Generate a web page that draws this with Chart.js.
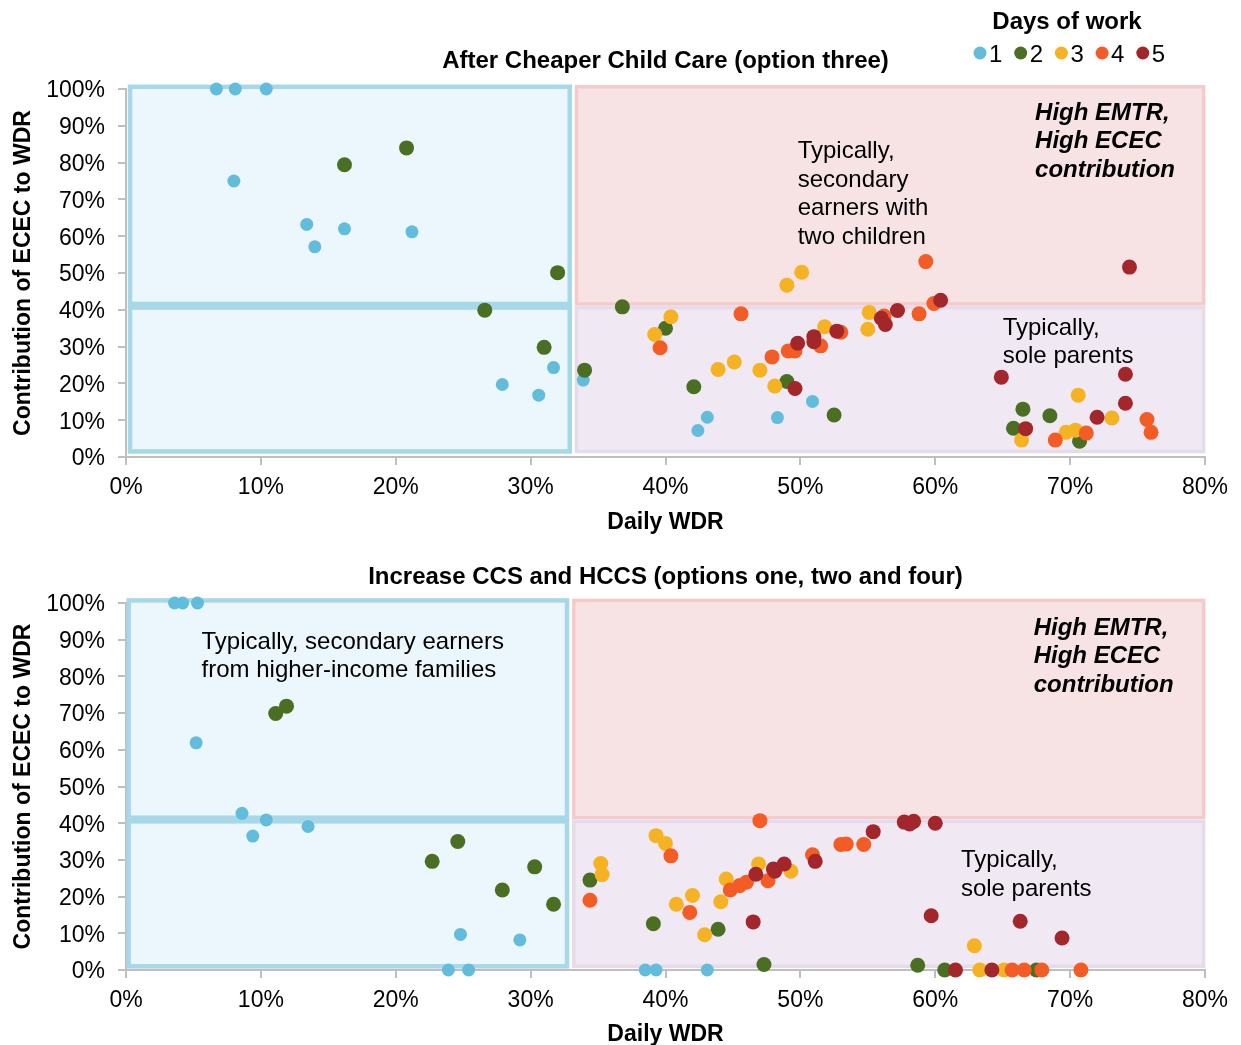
<!DOCTYPE html>
<html>
<head>
<meta charset="utf-8">
<title>Daily WDR and ECEC contribution</title>
<script src="https://cdn.jsdelivr.net/npm/chart.js@4"></script>
<style>
  body { margin: 0; background: #fff; }
  #wrap { position: relative; width: 1241px; height: 1045px; }
  #wrap canvas { position: absolute; left: 0; }
</style>
</head>
<body>
<div id="wrap">
  <canvas id="chart-top" width="1241" height="540" style="top:0"></canvas>
  <canvas id="chart-bottom" width="1241" height="505" style="top:540px"></canvas>
</div>
<script>
// ===== data =====
var days = ['1', '2', '3', '4', '5'];
var xTickValues = [0, 10, 20, 30, 40, 50, 60, 70, 80];
var yTickValues = [0, 10, 20, 30, 40, 50, 60, 70, 80, 90, 100];

// After Cheaper Child Care (option three): [daily WDR %, ECEC contribution %]
var cheaperDay1 = [[6.7,100],[8.1,100],[10.4,100],[8.0,75],[13.4,63.2],[16.2,62.0],[14.0,57.1],[21.2,61.2],[27.9,19.7],[30.6,16.8],[31.7,24.3],[33.9,20.9],[42.4,7.2],[43.1,10.8],[48.3,10.7],[50.9,15.1]];
var cheaperDay2 = [[16.2,79.4],[20.8,84.0],[32.0,50.1],[26.6,39.9],[31.0,29.8],[34.0,23.6],[36.8,40.8],[40.0,35.0],[42.1,19.1],[49.0,20.5],[52.5,11.4],[66.5,13.0],[65.8,7.8],[68.5,11.2],[70.7,4.3]];
var cheaperDay3 = [[49.0,46.7],[50.1,50.2],[40.4,38.1],[39.2,33.3],[43.9,23.8],[45.1,25.8],[47.0,23.6],[48.1,19.3],[51.8,35.4],[55.1,39.3],[55.0,34.7],[70.6,16.8],[73.1,10.6],[66.4,4.6],[69.7,6.7],[70.4,7.3]];
var cheaperDay4 = [[59.3,53.1],[39.6,29.7],[45.6,38.9],[47.9,27.2],[49.1,28.8],[49.6,28.8],[51.5,30.2],[53.0,33.9],[58.8,38.9],[59.9,41.7],[56.2,38.3],[68.9,4.6],[71.2,6.5],[75.7,10.2],[76.0,6.7]];
var cheaperDay5 = [[49.8,30.9],[49.6,18.6],[51.0,32.7],[51.0,31.3],[52.7,34.2],[56.0,37.7],[56.3,36.0],[57.2,39.8],[60.4,42.6],[74.4,51.6],[64.9,21.7],[74.1,22.5],[74.1,14.6],[72.0,10.8],[66.7,7.7]];

// Increase CCS and HCCS (options one, two and four)
var ccsDay1 = [[3.6,100],[4.2,100],[5.3,100],[5.2,61.9],[8.6,42.7],[10.4,40.9],[9.4,36.5],[13.5,39.1],[24.8,9.7],[29.2,8.2],[23.9,0],[25.4,0],[38.5,0],[39.3,0],[43.1,0]];
var ccsDay2 = [[11.1,69.9],[11.9,71.9],[22.7,29.6],[24.6,35.0],[30.3,28.1],[27.9,21.8],[31.7,17.9],[34.4,24.5],[39.1,12.6],[43.9,11.1],[47.3,1.5],[58.7,1.3],[60.7,0],[67.5,0]];
var ccsDay3 = [[35.2,29.0],[35.3,26.0],[39.3,36.6],[40.0,34.5],[40.8,17.9],[42.0,20.3],[42.9,9.6],[44.1,18.6],[44.5,24.8],[46.9,28.9],[49.3,26.9],[62.9,6.6],[63.3,0],[65.1,0]];
var ccsDay4 = [[47.0,40.7],[34.4,19.0],[40.4,31.1],[41.8,15.7],[44.8,21.8],[45.5,23.0],[46.0,23.9],[47.6,24.3],[50.9,31.4],[53.0,34.2],[53.4,34.3],[54.7,34.2],[65.7,0],[66.6,0],[67.9,0],[70.8,0]];
var ccsDay5 = [[46.7,26.1],[48.0,27.5],[48.1,26.9],[48.8,28.9],[51.1,29.6],[46.5,13.1],[55.4,37.7],[57.7,40.3],[58.1,39.8],[58.4,40.5],[60.0,40.0],[59.7,14.8],[66.3,13.3],[69.4,8.7],[61.5,0],[64.2,0]];

// ===== styles =====
var FONT = '"Liberation Sans", Arial, sans-serif';
var dayColors = ['#62bcdb', '#4a6f23', '#f5b223', '#f35c24', '#a3262a'];
var dayRadius = [6.5, 7.5, 7.5, 7.5, 7.5];
var AXIS_GREY = '#bfbfbf';

Chart.defaults.font.family = FONT;
Chart.defaults.color = '#000';

// quadrant boxes + notes (+ legend for the top chart)
var quadrantPlugin = {
  id: 'quadrants',
  beforeDatasetsDraw: function(chart, args, opts) {
    var xs = chart.scales.x, ys = chart.scales.y, ctx = chart.ctx;
    var q = opts.q;
    var rects = [
      { x0: q.xMid + 0.3, x1: q.x1, y0: q.yMid + 0.5, y1: q.y1, fill: '#f8e3e4', stroke: '#f5cacb', w: 3.5 },
      { x0: q.xMid + 0.3, x1: q.x1, y0: q.y0, y1: q.yMid - 0.5, fill: '#f0e8f3', stroke: '#e6dbea', w: 3.5 },
      { x0: q.x0, x1: q.xMid - 0.2, y0: q.yMid + 0.5, y1: q.y1, fill: '#ebf7fc', stroke: '#a6d8ea', w: 4.5 },
      { x0: q.x0, x1: q.xMid - 0.2, y0: q.y0, y1: q.yMid - 0.5, fill: '#ebf7fc', stroke: '#a6d8ea', w: 4.5 }
    ];
    ctx.save();
    rects.forEach(function(r) {
      var l = xs.getPixelForValue(r.x0), rt = xs.getPixelForValue(r.x1);
      var t = ys.getPixelForValue(r.y1), b = ys.getPixelForValue(r.y0);
      ctx.fillStyle = r.fill;
      ctx.fillRect(l, t, rt - l, b - t);
      ctx.lineWidth = r.w;
      ctx.strokeStyle = r.stroke;
      ctx.strokeRect(l, t, rt - l, b - t);
    });
    ctx.fillStyle = '#000';
    ctx.textAlign = 'left';
    ctx.textBaseline = 'middle';
    opts.notes.forEach(function(n) {
      ctx.font = n.font;
      var px = xs.getPixelForValue(n.x), py = ys.getPixelForValue(n.y) + 2;
      n.lines.forEach(function(line, i) {
        ctx.fillText(line, px, py + i * 28.5);
      });
    });
    ctx.restore();
  },
  afterDraw: function(chart, args, opts) {
    if (!opts.legend) return;
    var ctx = chart.ctx;
    ctx.save();
    ctx.fillStyle = '#000';
    ctx.textAlign = 'center';
    ctx.textBaseline = 'middle';
    ctx.font = 'bold 24px ' + FONT;
    ctx.fillText('Days of work', 1067, 22);
    ctx.font = '24px ' + FONT;
    ctx.textAlign = 'left';
    chart.data.datasets.forEach(function(ds, i) {
      var cx = 980 + i * 40.7;
      ctx.beginPath();
      ctx.arc(cx, 53, 6.5, 0, Math.PI * 2);
      ctx.fillStyle = ds.backgroundColor;
      ctx.fill();
      ctx.fillStyle = '#000';
      ctx.fillText(ds.label, cx + 9, 55);
    });
    ctx.restore();
  }
};

function buildDatasets(series) {
  return series.map(function(pts, i) {
    return {
      label: days[i],
      data: pts.map(function(p) { return { x: p[0], y: p[1] }; }),
      backgroundColor: dayColors[i],
      pointBackgroundColor: dayColors[i],
      pointBorderWidth: 0,
      pointRadius: dayRadius[i],
      pointHoverRadius: dayRadius[i],
      order: 5 - i,
      clip: false
    };
  });
}

function buildOptions(cfg) {
  return {
    responsive: false,
    animation: false,
    events: [],
    layout: { padding: { left: 0, right: 36, top: 0, bottom: 0 } },
    plugins: {
      legend: { display: false },
      tooltip: { enabled: false },
      title: {
        display: true,
        text: cfg.title,
        fullSize: false,
        color: '#000',
        font: { size: 24, weight: 'bold' },
        padding: { top: cfg.titleTop, bottom: cfg.titleBottom }
      },
      quadrants: { q: cfg.q, notes: cfg.notes, legend: cfg.legend }
    },
    scales: {
      x: {
        type: 'linear',
        min: 0,
        max: 80,
        afterBuildTicks: function(s) { s.ticks = xTickValues.map(function(v) { return { value: v }; }); },
        afterFit: function(s) { s.height = cfg.xAxisHeight; },
        ticks: { font: { size: 23 }, color: '#000', padding: 9, maxRotation: 0, autoSkip: false,
          callback: function(v) { return v + '%'; } },
        grid: { drawOnChartArea: false, drawTicks: true, tickLength: 8, color: AXIS_GREY, lineWidth: 2 },
        border: { display: true, color: AXIS_GREY, width: 2 },
        title: { display: true, text: 'Daily WDR', color: '#000', font: { size: 23, weight: 'bold' },
          padding: { top: 0, bottom: cfg.xTitlePad } }
      },
      y: {
        type: 'linear',
        min: 0,
        max: 100,
        afterBuildTicks: function(s) { s.ticks = yTickValues.map(function(v) { return { value: v }; }); },
        afterFit: function(s) { s.width = 126; },
        ticks: { font: { size: 23 }, color: '#000', padding: 13, labelOffset: 2,
          callback: function(v) { return v + '%'; } },
        grid: { drawOnChartArea: false, drawTicks: true, tickLength: 8, color: AXIS_GREY, lineWidth: 2 },
        border: { display: true, color: AXIS_GREY, width: 2 },
        title: { display: true, text: 'Contribution of ECEC to WDR', color: '#000',
          font: { size: 23, weight: 'bold' }, padding: { top: 10, bottom: 0 } }
      }
    }
  };
}

var noteFont = '24px ' + FONT;
var boldNoteFont = 'italic bold 24px ' + FONT;

new Chart(document.getElementById('chart-top'), {
  type: 'scatter',
  data: { datasets: buildDatasets([cheaperDay1, cheaperDay2, cheaperDay3, cheaperDay4, cheaperDay5]) },
  options: buildOptions({
    title: 'After Cheaper Child Care (option three)',
    titleTop: 46.6,
    titleBottom: 13.6,
    xAxisHeight: 83,
    xTitlePad: 4,
    legend: true,
    q: { x0: 0.3, xMid: 33.1, x1: 79.9, y0: 1.5, yMid: 41.1, y1: 100.6 },
    notes: [
      { x: 49.8, y: 83.5, font: noteFont, lines: ['Typically,', 'secondary', 'earners with', 'two children'] },
      { x: 67.4, y: 94.0, font: boldNoteFont, lines: ['High EMTR,', 'High ECEC', 'contribution'] },
      { x: 65.0, y: 35.6, font: noteFont, lines: ['Typically,', 'sole parents'] }
    ]
  }),
  plugins: [quadrantPlugin]
});

new Chart(document.getElementById('chart-bottom'), {
  type: 'scatter',
  data: { datasets: buildDatasets([ccsDay1, ccsDay2, ccsDay3, ccsDay4, ccsDay5]) },
  options: buildOptions({
    title: 'Increase CCS and HCCS (options one, two and four)',
    titleTop: 22.6,
    titleBottom: 11.6,
    xAxisHeight: 75,
    xTitlePad: -3,
    legend: false,
    q: { x0: 0.2, xMid: 32.9, x1: 79.9, y0: 1.0, yMid: 41.0, y1: 100.7 },
    notes: [
      { x: 5.6, y: 89.9, font: noteFont, lines: ['Typically, secondary earners', 'from higher-income families'] },
      { x: 67.3, y: 93.7, font: boldNoteFont, lines: ['High EMTR,', 'High ECEC', 'contribution'] },
      { x: 61.9, y: 30.3, font: noteFont, lines: ['Typically,', 'sole parents'] }
    ]
  }),
  plugins: [quadrantPlugin]
});
</script>
</body>
</html>
